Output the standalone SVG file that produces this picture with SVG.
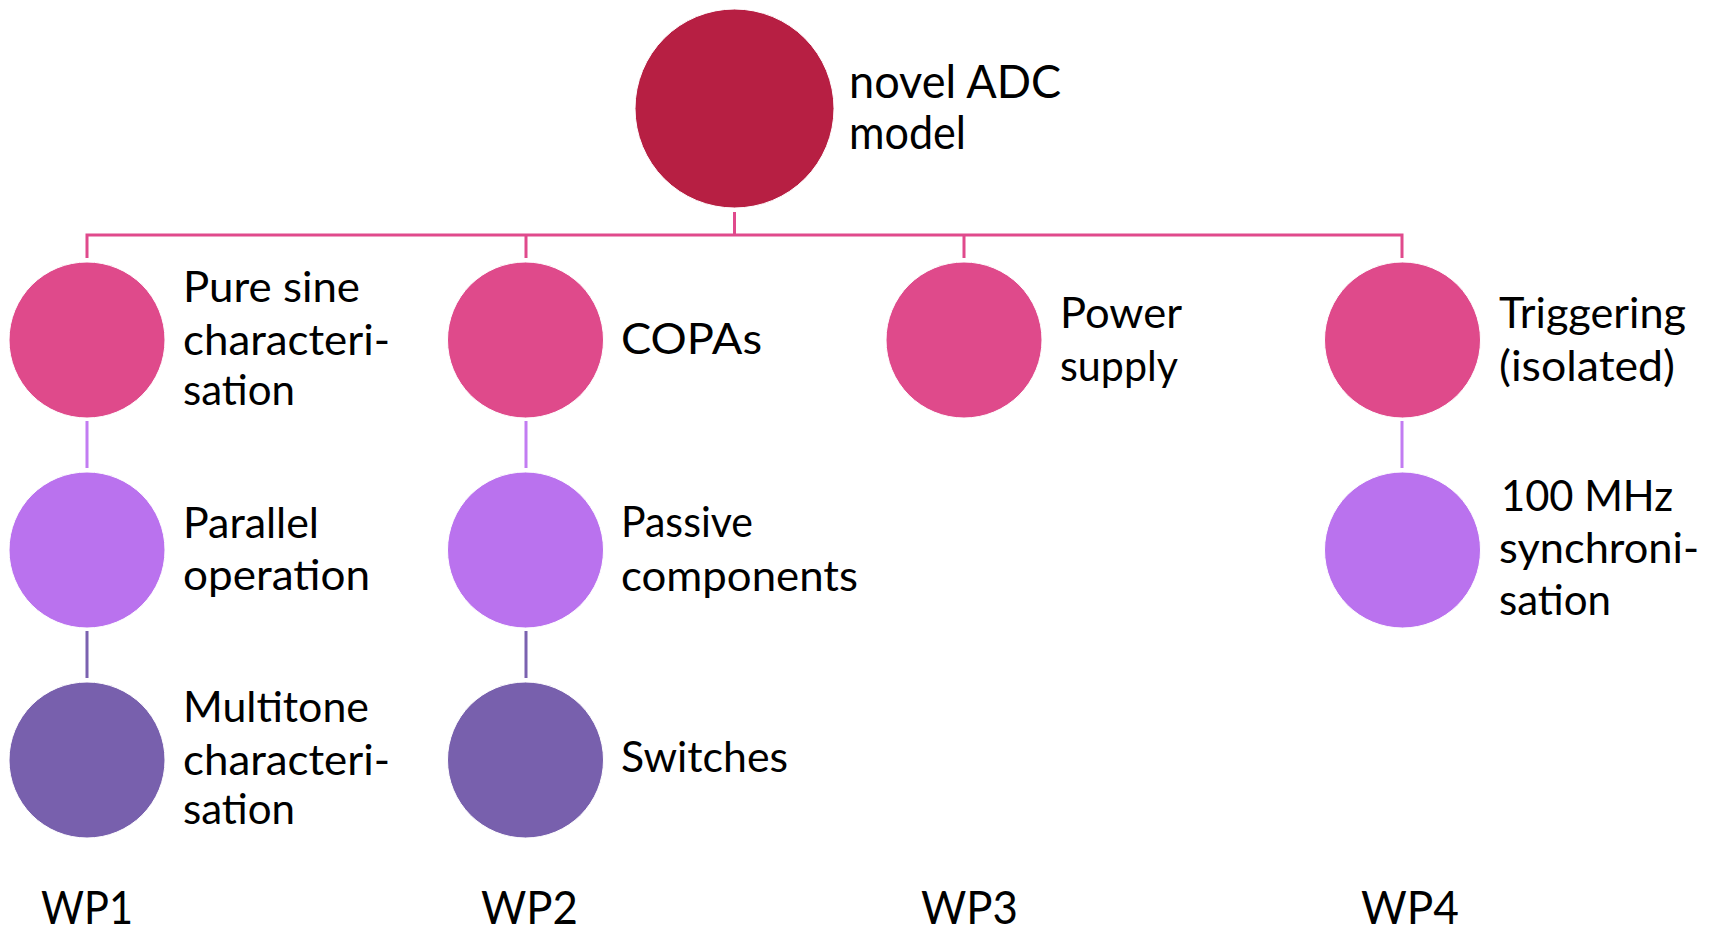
<svg xmlns="http://www.w3.org/2000/svg" width="1715" height="927" viewBox="0 0 1715 927">
<style>
text{font-family:Lato,"Open Sans","Liberation Sans",sans-serif;fill:#000;font-size:42px}
.big{font-size:46px}
.c0{fill:#B71F43}
.c1{fill:#DF4A8B}
.c2{fill:#BA72EE}
.c3{fill:#7860AD}
circle{stroke:#fff;stroke-width:1}
.l0{stroke:#E04A8C;stroke-width:3;fill:none}
.l1{stroke:#C27CF2;stroke-width:3;fill:none}
.l2{stroke:#7B62B0;stroke-width:3;fill:none}
</style>
<rect width="1715" height="927" fill="#fff"/>
<g id="connectors">
<path class="l0" d="M734.5 212V235M87 258V235H1402V258M526 235V258M964 235V258"/>
<path class="l1" d="M87 421V468M526 421V468M1402 421V468"/>
<path class="l2" d="M87 631V678M526 631V678"/>
</g>
<g id="root">
<circle class="c0" cx="734.5" cy="108.5" r="99.5"/>
<text class="big" x="849" y="98" textLength="212" lengthAdjust="spacingAndGlyphs">novel ADC</text>
<text class="big" x="849" y="149" textLength="117" lengthAdjust="spacingAndGlyphs">model</text>
</g>
<g id="wp1-pure-sine">
<circle class="c1" cx="87" cy="340" r="78"/>
<text x="183" y="302" textLength="177" lengthAdjust="spacingAndGlyphs">Pure sine</text>
<text x="183" y="355" textLength="207" lengthAdjust="spacingAndGlyphs">characteri-</text>
<text x="183" y="405" textLength="112" lengthAdjust="spacingAndGlyphs">sation</text>
</g>
<g id="wp1-parallel">
<circle class="c2" cx="87" cy="550" r="78"/>
<text x="183" y="538" textLength="136" lengthAdjust="spacingAndGlyphs">Parallel</text>
<text x="183" y="590" textLength="187" lengthAdjust="spacingAndGlyphs">operation</text>
</g>
<g id="wp1-multitone">
<circle class="c3" cx="87" cy="760" r="78"/>
<text x="183" y="722" textLength="186" lengthAdjust="spacingAndGlyphs">Multitone</text>
<text x="183" y="775" textLength="207" lengthAdjust="spacingAndGlyphs">characteri-</text>
<text x="183" y="824" textLength="112" lengthAdjust="spacingAndGlyphs">sation</text>
</g>
<g id="wp2-copas">
<circle class="c1" cx="525.5" cy="340" r="78"/>
<text x="621" y="354" textLength="141" lengthAdjust="spacingAndGlyphs">COPAs</text>
</g>
<g id="wp2-passive">
<circle class="c2" cx="525.5" cy="550" r="78"/>
<text x="621" y="537" textLength="132" lengthAdjust="spacingAndGlyphs">Passive</text>
<text x="621" y="591" textLength="237" lengthAdjust="spacingAndGlyphs">components</text>
</g>
<g id="wp2-switches">
<circle class="c3" cx="525.5" cy="760" r="78"/>
<text x="621" y="772" textLength="167" lengthAdjust="spacingAndGlyphs">Switches</text>
</g>
<g id="wp3-power">
<circle class="c1" cx="964" cy="340" r="78"/>
<text x="1060" y="328" textLength="122" lengthAdjust="spacingAndGlyphs">Power</text>
<text x="1060" y="381" textLength="118" lengthAdjust="spacingAndGlyphs">supply</text>
</g>
<g id="wp4-triggering">
<circle class="c1" cx="1402.5" cy="340" r="78"/>
<text x="1499" y="328" textLength="187" lengthAdjust="spacingAndGlyphs">Triggering</text>
<text x="1499" y="381" textLength="176" lengthAdjust="spacingAndGlyphs">(isolated)</text>
</g>
<g id="wp4-sync">
<circle class="c2" cx="1402.5" cy="550" r="78"/>
<text x="1501" y="511" textLength="172" lengthAdjust="spacingAndGlyphs">100 MHz</text>
<text x="1499" y="563" textLength="200" lengthAdjust="spacingAndGlyphs">synchroni-</text>
<text x="1499" y="615" textLength="112" lengthAdjust="spacingAndGlyphs">sation</text>
</g>
<g id="labels">
<text class="big" x="41" y="924" textLength="92" lengthAdjust="spacingAndGlyphs">WP1</text>
<text class="big" x="481" y="924" textLength="97" lengthAdjust="spacingAndGlyphs">WP2</text>
<text class="big" x="921" y="924" textLength="97" lengthAdjust="spacingAndGlyphs">WP3</text>
<text class="big" x="1361" y="924" textLength="98" lengthAdjust="spacingAndGlyphs">WP4</text>
</g>
</svg>
